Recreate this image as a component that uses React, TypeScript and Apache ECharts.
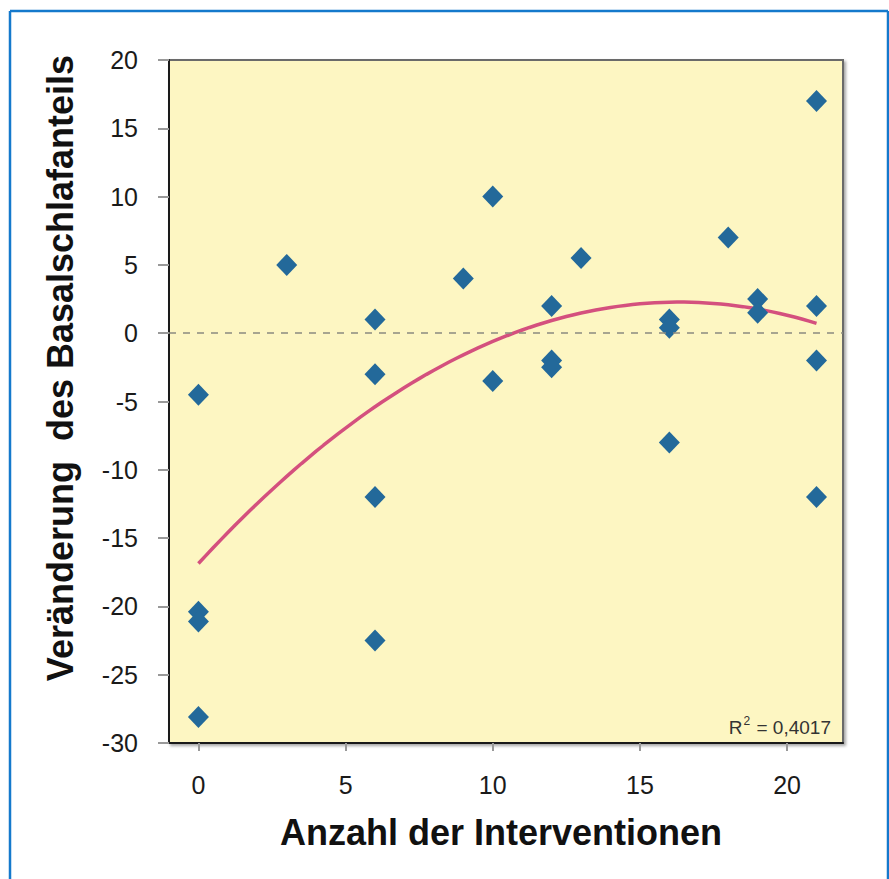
import React, { useEffect, useRef } from "react";
import * as echarts from "echarts";

const interventions = [0, 0, 0, 0, 3, 6, 6, 6, 6, 9, 10, 10, 12, 12, 12, 13, 16, 16, 16, 18, 19, 19, 21, 21, 21, 21];
const sleepChange = [-4.5, -20.4, -21.1, -28.1, 5, 1, -3, -12, -22.5, 4, 10, -3.5, 2, -2, -2.5, 5.5, 1, 0.4, -8, 7, 2.5, 1.5, 17, 2, -2, -12];
const xTicks = [0, 5, 10, 15, 20];
const rSquaredValue = "0,4017";
const yAxisTitle = "Veränderung  des Basalschlafanteils";
const xAxisTitle = "Anzahl der Interventionen";

// least-squares quadratic fit (as the spreadsheet's polynomial trendline)
function quadFit(xs: number[], ys: number[]) {
  let s0 = 0, s1 = 0, s2 = 0, s3 = 0, s4 = 0, t0 = 0, t1 = 0, t2 = 0;
  for (let i = 0; i < xs.length; i++) {
    const x = xs[i], y = ys[i];
    s0 += 1; s1 += x; s2 += x * x; s3 += x * x * x; s4 += x * x * x * x;
    t0 += y; t1 += x * y; t2 += x * x * y;
  }
  const M = [
    [s0, s1, s2, t0],
    [s1, s2, s3, t1],
    [s2, s3, s4, t2],
  ];
  for (let c = 0; c < 3; c++) {
    let p = c;
    for (let r = c + 1; r < 3; r++) if (Math.abs(M[r][c]) > Math.abs(M[p][c])) p = r;
    [M[c], M[p]] = [M[p], M[c]];
    for (let r = 0; r < 3; r++) {
      if (r === c) continue;
      const f = M[r][c] / M[c][c];
      for (let k = c; k < 4; k++) M[r][k] -= f * M[c][k];
    }
  }
  return [M[0][3] / M[0][0], M[1][3] / M[1][1], M[2][3] / M[2][2]];
}

export default function App() {
  const ref = useRef<HTMLDivElement>(null);
  useEffect(() => {
    document.body.style.margin = "0";
    const chart = echarts.init(ref.current!, null, { renderer: "svg" });
    const [c0, c1, c2] = quadFit(interventions, sleepChange);
    const xMinFit = Math.min(...interventions);
    const xMaxFit = Math.max(...interventions);
    const trend: number[][] = [];
    for (let i = 0; i <= 84; i++) {
      const x = xMinFit + ((xMaxFit - xMinFit) * i) / 84;
      trend.push([x, c0 + c1 * x + c2 * x * x]);
    }
    const points = interventions.map((x, i) => [x, sleepChange[i]]);
    const font = "'Liberation Sans', Arial, sans-serif";
    chart.setOption({
      animation: false,
      backgroundColor: "#ffffff",
      grid: {
        left: 169,
        top: 60,
        right: 46,
        bottom: 136,
        show: true,
        backgroundColor: "#FDF6C2",
        borderColor: "#6a6a6a",
        borderWidth: 2,
        shadowColor: "rgba(0,0,0,0.35)",
        shadowBlur: 3,
        shadowOffsetX: 2,
        shadowOffsetY: 2,
      },
      xAxis: {
        type: "value",
        min: -1,
        max: 21.9,
        splitLine: { show: false },
        axisLine: { show: true, onZero: false, lineStyle: { color: "#1a1a1a", width: 2 } },
        axisTick: { show: true, length: 8, customValues: xTicks, lineStyle: { color: "#999", width: 2 } },
        axisLabel: { customValues: xTicks, margin: 29, fontSize: 25, color: "#1a1a1a", fontFamily: font },
      },
      yAxis: {
        type: "value",
        min: -30,
        max: 20,
        interval: 5,
        splitLine: { show: false },
        axisLine: { show: true, onZero: false, lineStyle: { color: "#1a1a1a", width: 2 } },
        axisTick: { show: true, length: 11, lineStyle: { color: "#999", width: 2 } },
        axisLabel: { margin: 31, fontSize: 25, color: "#1a1a1a", fontFamily: font },
      },
      graphic: [
        { type: "line", shape: { x1: 10, y1: 11, x2: 10, y2: 879 }, style: { stroke: "#1479CC", lineWidth: 2.5 } },
        { type: "line", shape: { x1: 10, y1: 11, x2: 888, y2: 11 }, style: { stroke: "#1479CC", lineWidth: 2.5 } },
        { type: "line", shape: { x1: 888, y1: 11, x2: 888, y2: 879 }, style: { stroke: "#1479CC", lineWidth: 2.5 } },
        {
          type: "text",
          x: 60,
          y: 368,
          rotation: Math.PI / 2,
          style: { text: yAxisTitle, fontSize: 36, fontWeight: "bold", fontFamily: font, fill: "#111", textAlign: "center", textVerticalAlign: "middle" },
        },
        {
          type: "text",
          x: 501,
          y: 832,
          style: { text: xAxisTitle, fontSize: 36, fontWeight: "bold", fontFamily: font, fill: "#111", textAlign: "center", textVerticalAlign: "middle" },
        },
        {
          type: "text",
          x: 831,
          y: 737,
          z: 100,
          style: {
            text: "{r|R}{s|2}{r| = " + rSquaredValue + "}",
            fontFamily: font,
            fill: "#333",
            textAlign: "right",
            textVerticalAlign: "bottom",
            rich: {
              r: { fontSize: 19, fontFamily: font, fill: "#333", verticalAlign: "bottom", lineHeight: 22 },
              s: { fontSize: 12, fontFamily: font, fill: "#333", verticalAlign: "top", lineHeight: 22, padding: [0, 1, 8, 1] },
            },
          },
        },
      ],
      series: [
        {
          type: "line",
          data: trend,
          showSymbol: false,
          smooth: false,
          lineStyle: { color: "#D4507E", width: 3.5 },
          z: 3,
          markLine: {
            silent: true,
            symbol: "none",
            label: { show: false },
            lineStyle: { color: "#8a8a80", type: [7, 7], width: 1.5 },
            data: [{ yAxis: 0 }],
          },
        },
        {
          type: "scatter",
          data: points,
          symbol: "diamond",
          symbolSize: [21, 22],
          itemStyle: { color: "#23699A", opacity: 1 },
          z: 4,
        },
      ],
    });
    return () => chart.dispose();
  }, []);
  return <div ref={ref} style={{ width: 889, height: 879 }} />;
}
